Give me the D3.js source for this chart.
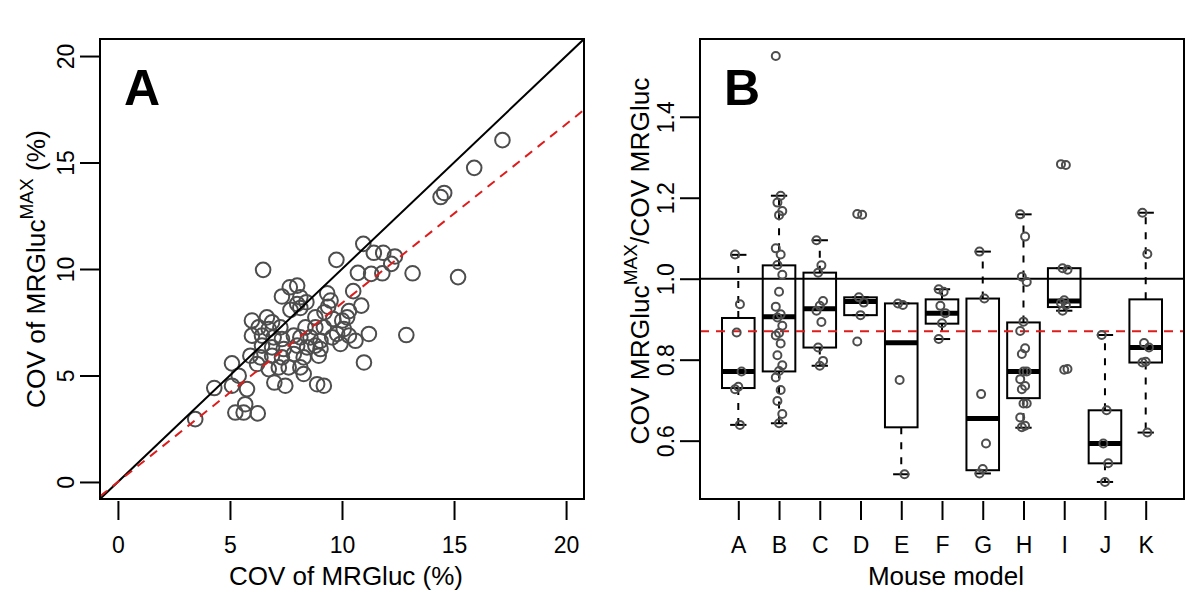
<!DOCTYPE html>
<html>
<head>
<meta charset="UTF-8">
<title></title>
<style>
  body { margin: 0; background: #fff; }
  text { font-family: "Liberation Sans", Arial, Helvetica, sans-serif; }
</style>
</head>
<body>
<div id="svg"></div>
<script src="https://d3js.org/d3.v7.min.js"></script>
<script>
// ---- panel A: COV of MRGluc vs COV of MRGluc^MAX (%) ----
var covBase = [17.16, 15.90, 14.40, 14.56, 15.18, 10.95, 9.75, 11.42, 11.84, 12.36,
  12.20, 10.71, 11.30, 11.80, 13.15, 6.48, 7.67, 8.00, 7.32, 8.14,
  8.41, 8.00, 9.34, 9.49, 9.38, 10.50, 10.86, 10.31, 7.70, 8.14,
  8.81, 9.22, 9.61, 10.01, 10.23, 5.98, 6.65, 6.88, 6.28, 6.73,
  7.25, 8.37, 8.81, 9.19, 10.08, 9.78, 10.31, 11.20, 12.87, 5.98,
  6.43, 6.95, 7.32, 7.85, 8.14, 8.59, 9.04, 9.56, 10.60, 9.93,
  6.43, 6.88, 7.40, 8.00, 8.44, 8.81, 5.91, 6.36, 6.88, 7.32,
  7.85, 8.29, 8.96, 9.04, 5.09, 6.21, 6.73, 7.18, 7.62, 8.14,
  8.29, 5.39, 10.98, 6.98, 7.47, 8.89, 9.19, 4.30, 5.09, 5.76,
  5.24, 5.61, 6.24, 5.68, 3.45];
var covMax = [16.05, 14.75, 13.38, 13.57, 9.62, 11.18, 10.43, 10.76, 10.76, 10.59,
  10.24, 9.82, 9.77, 9.80, 9.80, 9.96, 9.14, 9.22, 8.71, 8.67,
  8.44, 8.36, 8.86, 8.52, 8.23, 8.96, 8.28, 8.02, 8.08, 8.17,
  7.73, 7.97, 7.65, 7.58, 7.73, 7.58, 7.73, 7.50, 7.26, 7.18,
  7.26, 7.26, 7.26, 7.26, 7.18, 6.95, 6.87, 6.95, 6.90, 6.87,
  6.87, 6.79, 6.71, 6.87, 6.79, 6.79, 6.63, 6.79, 6.63, 6.48,
  6.40, 6.32, 6.24, 6.40, 6.32, 6.40, 5.93, 5.85, 5.93, 5.85,
  6.01, 5.85, 5.93, 6.24, 5.57, 5.54, 5.30, 5.38, 5.38, 5.38,
  5.07, 4.99, 5.61, 4.67, 4.52, 4.59, 4.52, 4.41, 4.52, 4.36,
  3.26, 3.26, 3.22, 3.65, 2.95];
var fitSlope = 0.84;
var limA = [0, 20];
var ticksA = [0, 5, 10, 15, 20];

// ---- panel B: ratio per mouse model ----
var models = ['A', 'B', 'C', 'D', 'E', 'F', 'G', 'H', 'I', 'J', 'K'];
var boxLow = [0.730, 0.771, 0.830, 0.910, 0.633, 0.889, 0.527, 0.705, 0.930, 0.544, 0.793];
var boxMed = [0.771, 0.906, 0.926, 0.944, 0.842, 0.915, 0.655, 0.771, 0.945, 0.593, 0.830];
var boxHigh = [0.903, 1.033, 1.015, 0.954, 0.939, 0.949, 0.951, 0.892, 1.026, 0.675, 0.949];
var whiskLow = [0.639, 0.643, 0.785, 0.910, 0.517, 0.851, 0.519, 0.632, 0.921, 0.498, 0.620];
var whiskHigh = [1.059, 1.205, 1.095, 0.954, 0.939, 0.974, 1.067, 1.159, 1.026, 0.861, 1.163];
var ratios = [
  [1.060, 0.937, 0.867, 0.771, 0.733, 0.727, 0.639],
  [1.550, 1.205, 1.188, 1.167, 1.157, 1.075, 1.060, 1.034, 1.010, 0.968, 0.931, 0.912, 0.904,
   0.884, 0.866, 0.860, 0.840, 0.811, 0.786, 0.772, 0.756, 0.725, 0.698, 0.666, 0.643],
  [1.095, 1.033, 1.015, 0.945, 0.933, 0.921, 0.893, 0.830, 0.797, 0.785],
  [1.160, 1.158, 0.954, 0.941, 0.910, 0.845],
  [0.939, 0.935, 0.750, 0.517],
  [0.974, 0.968, 0.933, 0.915, 0.890, 0.851],
  [1.067, 0.951, 0.715, 0.593, 0.530, 0.519],
  [1.159, 1.104, 1.005, 0.992, 0.894, 0.871, 0.828, 0.814, 0.771, 0.771, 0.752, 0.735, 0.727,
   0.692, 0.692, 0.657, 0.637, 0.633],
  [1.283, 1.281, 1.026, 1.022, 0.947, 0.940, 0.935, 0.921, 0.777, 0.775],
  [0.861, 0.675, 0.593, 0.544, 0.498],
  [1.163, 1.061, 0.841, 0.830, 0.795, 0.793, 0.620]
];
var meanRatio = 0.87;
var ticksB = [0.6, 0.8, 1.0, 1.2, 1.4];

var width = 1200, height = 600;
var plotTop = 39, plotBottom = 499, plotW = 484;
var leftA = 100, leftB = 700;
var grey = '#4d4d4d', red = '#dd1c1c';

var svg = d3.select('#svg').append('svg')
  .attr('width', width)
  .attr('height', height);

// R style axis range: data range plus 4% each side
var padded = function(lo, hi) {
  var d = (hi - lo) * 0.04;
  return [lo - d, hi + d];
};

var styleAxis = function(g) {
  g.select('.domain').remove();
  g.attr('font-size', 23).attr('font-family', null);
  g.selectAll('line').attr('stroke', '#000').attr('stroke-width', 2);
  g.selectAll('text').attr('fill', '#000');
};

var yAxis = function(scale, left, ticks, fmt) {
  svg.append('g')
    .attr('transform', 'translate(' + left + ',0)')
    .call(d3.axisLeft(scale).tickValues(ticks).tickSize(20).tickFormat(fmt))
    .call(styleAxis)
    .selectAll('text')
    .attr('x', null).attr('dy', '0.35em')
    .attr('text-anchor', 'middle')
    .attr('transform', 'translate(-34,0) rotate(-90)');
};

var xAxis = function(scale, ticks, fmt) {
  svg.append('g')
    .attr('transform', 'translate(0,' + (plotBottom + 2) + ')')
    .call(d3.axisBottom(scale).tickValues(ticks).tickSize(19).tickFormat(fmt))
    .call(styleAxis)
    .selectAll('text')
    .attr('y', 52).attr('dy', null);
};

var frame = function(left) {
  svg.append('rect')
    .attr('x', left).attr('y', plotTop)
    .attr('width', plotW).attr('height', plotBottom - plotTop)
    .attr('fill', 'none').attr('stroke', '#000').attr('stroke-width', 2);
};

var titleWithSup = function(x, y, before, after) {
  var t = svg.append('text')
    .attr('font-size', 26.3)
    .attr('text-anchor', 'middle')
    .attr('transform', 'translate(' + x + ',' + y + ') rotate(-90)')
    .attr('dy', '0.35em');
  t.append('tspan').text(before);
  t.append('tspan').attr('font-size', 19).attr('dy', -12).text('MAX');
  t.append('tspan').attr('dy', 12).text(after);
};

// ================= panel A =================
var xA = d3.scaleLinear().domain(padded(limA[0], limA[1])).range([leftA, leftA + plotW]);
var yA = d3.scaleLinear().domain(padded(limA[0], limA[1])).range([plotBottom, plotTop]);

svg.append('clipPath').attr('id', 'clipA')
  .append('rect').attr('x', leftA).attr('y', plotTop).attr('width', plotW).attr('height', plotBottom - plotTop);

var pointsA = covBase.map(function(v, i) { return [v, covMax[i]]; });

svg.append('g').selectAll('circle')
  .data(pointsA)
  .join('circle')
  .attr('cx', function(d) { return xA(d[0]); })
  .attr('cy', function(d) { return yA(d[1]); })
  .attr('r', 7.3)
  .attr('fill', 'none')
  .attr('stroke', grey)
  .attr('stroke-width', 2);

var line = d3.line()
  .x(function(d) { return xA(d[0]); })
  .y(function(d) { return yA(d[1]); });
var span = xA.domain();

svg.append('path')
  .attr('clip-path', 'url(#clipA)')
  .attr('d', line([[span[0], span[0]], [span[1], span[1]]]))
  .attr('stroke', '#000').attr('stroke-width', 2).attr('fill', 'none');

svg.append('path')
  .attr('clip-path', 'url(#clipA)')
  .attr('d', line([[span[0], span[0] * fitSlope], [span[1], span[1] * fitSlope]]))
  .attr('stroke', red).attr('stroke-width', 2)
  .attr('stroke-dasharray', '9,7').attr('fill', 'none');

frame(leftA);
yAxis(yA, leftA, ticksA, d3.format('d'));
xAxis(xA, ticksA, d3.format('d'));

svg.append('text')
  .attr('x', leftA + plotW / 2 + 4).attr('y', 585)
  .attr('text-anchor', 'middle').attr('font-size', 26)
  .text('COV of MRGluc (%)');
titleWithSup(36, (plotTop + plotBottom) / 2, 'COV of MRGluc', ' (%)');

svg.append('text')
  .attr('x', leftA + 24).attr('y', 105)
  .attr('font-size', 50).attr('font-weight', 'bold')
  .text('A');

// ================= panel B =================
var allRatios = d3.merge(ratios);
var xB = d3.scaleLinear().domain(padded(0.5, models.length + 0.5)).range([leftB, leftB + plotW]);
var yB = d3.scaleLinear().domain(padded(d3.min(allRatios), d3.max(allRatios))).range([plotBottom, plotTop]);

var boxes = models.map(function(m, i) {
  return { pos: i + 1, lo: boxLow[i], med: boxMed[i], hi: boxHigh[i],
    wlo: whiskLow[i], whi: whiskHigh[i] };
});

var bx = svg.append('g').selectAll('g')
  .data(boxes)
  .join('g');

// whiskers
bx.append('line')
  .attr('x1', function(d) { return xB(d.pos); }).attr('x2', function(d) { return xB(d.pos); })
  .attr('y1', function(d) { return yB(d.hi); }).attr('y2', function(d) { return yB(d.whi); })
  .attr('stroke', '#000').attr('stroke-width', 2).attr('stroke-dasharray', '7,8');
bx.append('line')
  .attr('x1', function(d) { return xB(d.pos); }).attr('x2', function(d) { return xB(d.pos); })
  .attr('y1', function(d) { return yB(d.lo); }).attr('y2', function(d) { return yB(d.wlo); })
  .attr('stroke', '#000').attr('stroke-width', 2).attr('stroke-dasharray', '7,8');
['whi', 'wlo'].forEach(function(k) {
  bx.append('line')
    .attr('x1', function(d) { return xB(d.pos - 0.2); }).attr('x2', function(d) { return xB(d.pos + 0.2); })
    .attr('y1', function(d) { return yB(d[k]); }).attr('y2', function(d) { return yB(d[k]); })
    .attr('stroke', '#000').attr('stroke-width', 2);
});
bx.append('rect')
  .attr('x', function(d) { return xB(d.pos - 0.4); })
  .attr('width', function(d) { return xB(d.pos + 0.4) - xB(d.pos - 0.4); })
  .attr('y', function(d) { return yB(d.hi); })
  .attr('height', function(d) { return yB(d.lo) - yB(d.hi); })
  .attr('fill', 'none').attr('stroke', '#000').attr('stroke-width', 2);
bx.append('line')
  .attr('x1', function(d) { return xB(d.pos - 0.4); }).attr('x2', function(d) { return xB(d.pos + 0.4); })
  .attr('y1', function(d) { return yB(d.med); }).attr('y2', function(d) { return yB(d.med); })
  .attr('stroke', '#000').attr('stroke-width', 5);

// reference lines
svg.append('line')
  .attr('x1', leftB).attr('x2', leftB + plotW)
  .attr('y1', yB(1)).attr('y2', yB(1))
  .attr('stroke', '#000').attr('stroke-width', 2);
svg.append('line')
  .attr('x1', leftB).attr('x2', leftB + plotW)
  .attr('y1', yB(meanRatio)).attr('y2', yB(meanRatio))
  .attr('stroke', red).attr('stroke-width', 2).attr('stroke-dasharray', '9,7');

// individual mice, small deterministic spread around the model position
var pts = [];
ratios.forEach(function(list, i) {
  list.forEach(function(v, j) {
    pts.push({ pos: i + 1 + ((j * 3) % 5 - 2) * 0.04, v: v });
  });
});
svg.append('g').selectAll('circle')
  .data(pts)
  .join('circle')
  .attr('cx', function(d) { return xB(d.pos); })
  .attr('cy', function(d) { return yB(d.v); })
  .attr('r', 4)
  .attr('fill', 'none')
  .attr('stroke', grey)
  .attr('stroke-width', 2);

frame(leftB);
yAxis(yB, leftB, ticksB, d3.format('.1f'));
xAxis(xB, d3.range(1, models.length + 1), function(d) { return models[d - 1]; });

svg.append('text')
  .attr('x', leftB + plotW / 2 + 4).attr('y', 585)
  .attr('text-anchor', 'middle').attr('font-size', 26)
  .text('Mouse model');
titleWithSup(640, 261, 'COV MRGluc', '/COV MRGluc');

svg.append('text')
  .attr('x', leftB + 24).attr('y', 105)
  .attr('font-size', 50).attr('font-weight', 'bold')
  .text('B');
</script>
</body>
</html>
